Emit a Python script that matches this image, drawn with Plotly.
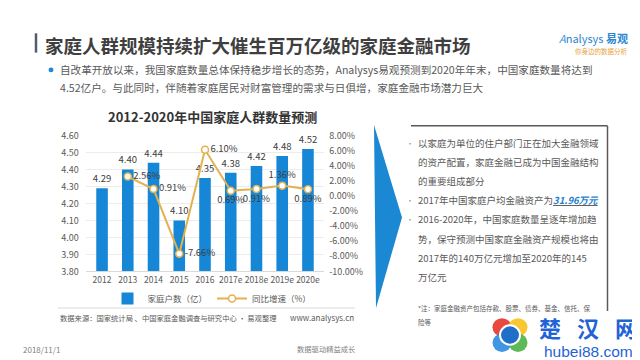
import plotly.graph_objects as go

# ---------------- data ----------------
years = ['2012', '2013', '2014', '2015', '2016', '2017e', '2018e', '2019e', '2020e']
households = [4.29, 4.40, 4.44, 4.10, 4.35, 4.38, 4.42, 4.48, 4.52]          # 亿户
growth = [None, 2.56, 0.91, -7.66, 6.10, 0.69, 0.91, 1.36, 0.89]              # %
growth_label_pos = ['middle right', 'middle right', 'middle right', 'middle right', 'middle right',
                    'bottom center', 'bottom center', 'top center', 'bottom center']
left_ticks = [3.8, 3.9, 4.0, 4.1, 4.2, 4.3, 4.4, 4.5, 4.6]
right_ticks = [-10, -8, -6, -4, -2, 0, 2, 4, 6, 8]

W, H = 640, 360
FONT = "Noto Sans CJK SC, Noto Sans, sans-serif"


def PX(x):
    return x / W


def PY(y):
    return 1 - y / H


BAR_COLOR = '#1686d6'
LINE_COLOR = '#e3b14f'
TXT = '#595959'

fig = go.Figure()

fig.add_trace(go.Bar(
    x=years, y=households, name='家庭户数（亿）',
    marker=dict(color=BAR_COLOR, line=dict(width=0)),
    text=[f'{v:.2f}' for v in households], textposition='outside', constraintext='none',
    textfont=dict(size=9.5, color='#404040', family=FONT),
    cliponaxis=False, yaxis='y', width=0.45,
))

fig.add_trace(go.Scatter(
    x=years, y=growth, name='同比增速（%）', mode='lines+markers+text',
    line=dict(color=LINE_COLOR, width=2),
    marker=dict(size=7, color='white', line=dict(color=LINE_COLOR, width=1.5)),
    text=[('' if v is None else f'{v:.2f}%') for v in growth],
    textposition=growth_label_pos,
    textfont=dict(size=9.5, color='#404040', family=FONT),
    cliponaxis=False, yaxis='y2', connectgaps=False,
))

fig.update_layout(
    width=W, height=H, autosize=False,
    margin=dict(l=0, r=0, t=0, b=0),
    paper_bgcolor='white', plot_bgcolor='rgba(0,0,0,0)',
    font=dict(family=FONT, color=TXT),
    showlegend=True,
    legend=dict(orientation='h', x=PX(204), xanchor='center', y=PY(294), yanchor='middle',
                font=dict(size=8.5, color=TXT, family=FONT), bgcolor='rgba(0,0,0,0)',
                itemwidth=30, tracegroupgap=0),
    xaxis=dict(domain=[PX(77.75), PX(316.25)], showgrid=False, showline=True,
               linecolor='#d9d9d9', linewidth=1, ticks='', tickangle=0,
               tickfont=dict(size=8.5, color=TXT, family=FONT), fixedrange=True),
    yaxis=dict(domain=[PY(266), PY(125)], range=[3.8, 4.6], tickvals=left_ticks,
               tickformat='.2f', showgrid=True, gridcolor='#ececec', gridwidth=1,
               zeroline=False, showline=False, ticks='', ticklabelstandoff=6,
               tickfont=dict(size=9, color=TXT, family=FONT)),
    yaxis2=dict(overlaying='y', side='right', range=[-10, 8], tickvals=right_ticks,
                ticktext=[f'{v:.2f}%' for v in right_ticks], showgrid=False,
                zeroline=False, showline=False, ticks='', ticklabelstandoff=4,
                tickfont=dict(size=9, color=TXT, family=FONT)),
    bargap=0.55,
)

shapes = []
annotations = []


def ann(text, x, y, size, color=TXT, xanchor='left', bold=False, yanchor='middle', family=FONT):
    annotations.append(dict(
        text=(f'<b>{text}</b>' if bold else text), x=PX(x), y=PY(y), xref='paper', yref='paper',
        xanchor=xanchor, yanchor=yanchor, showarrow=False, borderpad=0,
        font=dict(size=size, color=color, family=family)))


# ---- header ----
shapes.append(dict(type='line', xref='paper', yref='paper', x0=PX(28), x1=PX(28), y0=PY(19), y1=PY(39),
                   line=dict(color='#4e5d72', width=2.5)))
ann('家庭人群规模持续扩大催生百万亿级的家庭金融市场', 36, 31, 18.5, '#3f3f3f', bold=True)
ann('<span style="color:#3a8fd8"><i>A</i></span>nalysys <b>易观</b>', 621, 24, 11, '#2d86d0', xanchor='right')
ann('你身边的数据分析', 621, 37, 6.5, '#e7a23c', xanchor='right')

# ---- bullet paragraph ----
shapes.append(dict(type='circle', xref='paper', yref='paper', x0=PX(40.5), x1=PX(45.5),
                   y0=PY(59.5), y1=PY(54.5), fillcolor='#1f8ad6', line=dict(width=0)))
ann('自改革开放以来，我国家庭数量总体保持稳步增长的态势，Analysys易观预测到2020年年末，中国家庭数量将达到',
    51, 57, 10.6, TXT)
ann('4.52亿户。与此同时，伴随着家庭居民对财富管理的需求与日俱增，家庭金融市场潜力巨大', 51, 75, 10.6, TXT)

# ---- chart title ----
ann('2012-2020年中国家庭人群数量预测', 204, 105, 13, '#333333', xanchor='center', bold=True)

# ---- separator + source ----
shapes.append(dict(type='line', xref='paper', yref='paper', x0=PX(50), x1=PX(347), y0=PY(304), y1=PY(304),
                   line=dict(color='#d9d9d9', width=1)))
ann('数据来源：国家统计局 、中国家庭金融调查与研究中心 · 易观整理', 51, 314, 7.3, TXT)
ann('www.analysys.cn', 347, 314, 8, TXT, xanchor='right')

# ---- footer ----
ann('2018/11/1', 14, 347, 8, '#7f7f7f')
ann('数据驱动精益成长', 349, 347, 7.3, '#7f7f7f', xanchor='right')

# ---- arrow ----
shapes.append(dict(type='path', xref='paper', yref='paper',
                   path=f'M {PX(366)} {PY(114)} L {PX(394)} {PY(210)} L {PX(368)} {PY(304)} Z',
                   fillcolor='#1a88d3', line=dict(width=0)))

# ---- right box ----
shapes.append(dict(type='line', xref='paper', yref='paper', x0=PX(403), x1=PX(599.5), y0=PY(115), y1=PY(115),
                   line=dict(color='#595959', width=1.5)))
shapes.append(dict(type='line', xref='paper', yref='paper', x0=PX(599.5), x1=PX(599.5), y0=PY(115), y1=PY(307),
                   line=dict(color='#595959', width=1.5)))

box_lines = [
    ('•', '以家庭为单位的住户部门正在加大金融领域', 133),
    ('', '的资产配置，家庭金融已成为中国金融结构', 153),
    ('', '的重要组成部分', 172),
    ('•', '2017年中国家庭户均金融资产为<b><i><u><span style="color:#1f7fd0">31.96万元</span></u></i></b>', 192),
    ('•', '2016-2020年，中国家庭数量呈逐年增加趋', 212),
    ('', '势，保守预测中国家庭金融资产规模也将由', 232),
    ('', '2017年的140万亿元增加至2020年的145', 252),
    ('', '万亿元', 272),
]
for bullet, txt, y in box_lines:
    if bullet:
        ann(bullet, 402, y, 8, '#9a9a9a', xanchor='center')
    ann(txt, 409, y, 9.5, TXT)

ann('*注：家庭金融资产包括存款、股票、债券、基金、信托、保', 409, 304, 6.5, TXT)
ann('险等', 409, 318, 6.5, TXT)

# ---- watermark logo ----
logo_circles = [
    (494, 324, 19, '#e5342a'),
    (510, 324, 19, '#f6c21c'),
    (510, 340, 19, '#4db245'),
    (494, 340, 19, '#2b8be0'),
]
for cx, cy, r, c in logo_circles:
    shapes.append(dict(type='circle', xref='paper', yref='paper', x0=PX(cx - r / 2), x1=PX(cx + r / 2),
                       y0=PY(cy + r / 2), y1=PY(cy - r / 2), fillcolor=c, line=dict(width=0), opacity=0.9))
shapes.append(dict(type='circle', xref='paper', yref='paper', x0=PX(492), x1=PX(512),
                   y0=PY(342), y1=PY(322), fillcolor='#1f6fc8', line=dict(color='white', width=2)))
for ch, x in zip(['楚', '汉', '网'], [542, 580, 618]):
    ann(ch, x, 324, 22, '#1f63d6', xanchor='center', bold=True)
ann('hubei88.com', 580, 349, 15.5, '#1f63d6', xanchor='center', family='Liberation Sans, Arial, sans-serif')

fig.update_layout(shapes=shapes, annotations=annotations)

fig.write_html('out.html')
